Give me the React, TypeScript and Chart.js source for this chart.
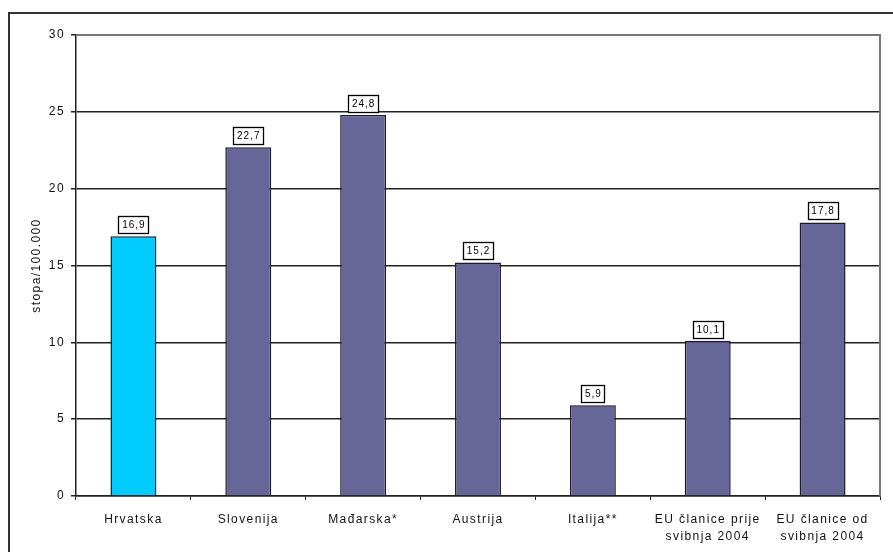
import React, { useEffect, useRef } from "react";
import { Chart, registerables } from "chart.js";

Chart.register(...registerables);

const categories: (string | string[])[] = [
  "Hrvatska",
  "Slovenija",
  "Mađarska*",
  "Austrija",
  "Italija**",
  ["EU članice prije", "svibnja 2004"],
  ["EU članice od", "svibnja 2004"],
];
const values = [16.9, 22.7, 24.8, 15.2, 5.9, 10.1, 17.8];
const barColors = ["#00CCFF", "#666699", "#666699", "#666699", "#666699", "#666699", "#666699"];
const yAxisTitle = "stopa/100.000";

const FONT = "'Liberation Sans', Arial, sans-serif";
const SPACING = "1.4px";

const spacingPlugin = {
  id: "spacingPlugin",
  beforeLayout(chart: any) {
    chart.ctx.letterSpacing = SPACING;
  },
  beforeDraw(chart: any) {
    chart.ctx.letterSpacing = SPACING;
  },
};

const labelBoxes = {
  id: "labelBoxes",
  afterDatasetsDraw(chart: any) {
    const ctx = chart.ctx;
    const meta = chart.getDatasetMeta(0);
    ctx.save();
    ctx.letterSpacing = "1px";
    ctx.font = `10px ${FONT}`;
    ctx.textAlign = "center";
    ctx.textBaseline = "middle";
    meta.data.forEach((el: any, i: number) => {
      const txt = values[i].toFixed(1).replace(".", ",");
      const w = Math.ceil(ctx.measureText(txt).width) + 6;
      const h = 17;
      const x = Math.round(el.x - w / 2) + 0.5;
      const y = Math.round(el.y - 3 - h) + 0.5;
      ctx.fillStyle = "#ffffff";
      ctx.fillRect(x, y, w, h);
      ctx.strokeStyle = "#000";
      ctx.lineWidth = 1.3;
      ctx.strokeRect(x, y, w, h);
      ctx.fillStyle = "#000";
      ctx.fillText(txt, el.x + 0.5, y + h / 2 + 0.5);
    });
    ctx.restore();
  },
};

const plotBorder = {
  id: "plotBorder",
  beforeDatasetsDraw(chart: any) {
    const { ctx, chartArea } = chart;
    ctx.save();
    ctx.strokeStyle = "#777";
    ctx.lineWidth = 2;
    ctx.beginPath();
    ctx.moveTo(chartArea.left, chartArea.top);
    ctx.lineTo(chartArea.right, chartArea.top);
    ctx.lineTo(chartArea.right, chartArea.bottom);
    ctx.stroke();
    ctx.restore();
  },
};

export default function App() {
  const ref = useRef<HTMLCanvasElement>(null);
  useEffect(() => {
    if (!ref.current) return;
    const chart = new Chart(ref.current, {
      type: "bar",
      data: {
        labels: categories,
        datasets: [
          {
            data: values,
            backgroundColor: barColors,
            borderColor: "#1a1a2a",
            borderWidth: 1.5,
            barPercentage: 0.4,
            categoryPercentage: 1,
          },
        ],
      },
      options: {
        animation: false,
        responsive: false,
        maintainAspectRatio: false,
        layout: { padding: { left: 25, right: 13, top: 35, bottom: 0 } },
        plugins: {
          legend: { display: false },
          tooltip: { enabled: false },
        },
        scales: {
          x: {
            grid: {
              offset: true,
              drawOnChartArea: false,
              drawTicks: true,
              tickLength: 4,
              color: "#222",
            },
            border: { color: "#222", width: 1.5 },
            ticks: {
              color: "#111",
              font: { family: FONT, size: 12, lineHeight: 1.35 },
              padding: 12,
              maxRotation: 0,
              autoSkip: false,
            },
            afterFit: (s: any) => {
              s.height = 56;
            },
          },
          y: {
            min: 0,
            max: 30,
            ticks: {
              stepSize: 5,
              color: "#111",
              font: { family: FONT, size: 12 },
              padding: 6,
            },
            grid: { color: "#222", lineWidth: 1.5, tickLength: 5 },
            border: { color: "#222", width: 1.5 },
            title: {
              display: true,
              text: yAxisTitle,
              color: "#111",
              font: { family: FONT, size: 12 },
              padding: 4,
            },
            afterFit: (s: any) => {
              s.width = 51;
            },
          },
        },
      },
      plugins: [spacingPlugin, plotBorder, labelBoxes],
    });
    return () => chart.destroy();
  }, []);
  return (
    <div style={{ position: "fixed", left: 0, top: 0, width: 893, height: 552, background: "#fff", overflow: "hidden" }}>
      <div
        style={{
          position: "absolute",
          left: 8,
          top: 12,
          width: 900,
          height: 600,
          borderLeft: "2px solid #333",
          borderTop: "2px solid #333",
        }}
      />
      <canvas ref={ref} width={893} height={552} style={{ position: "absolute", left: 0, top: 0 }} />
    </div>
  );
}
